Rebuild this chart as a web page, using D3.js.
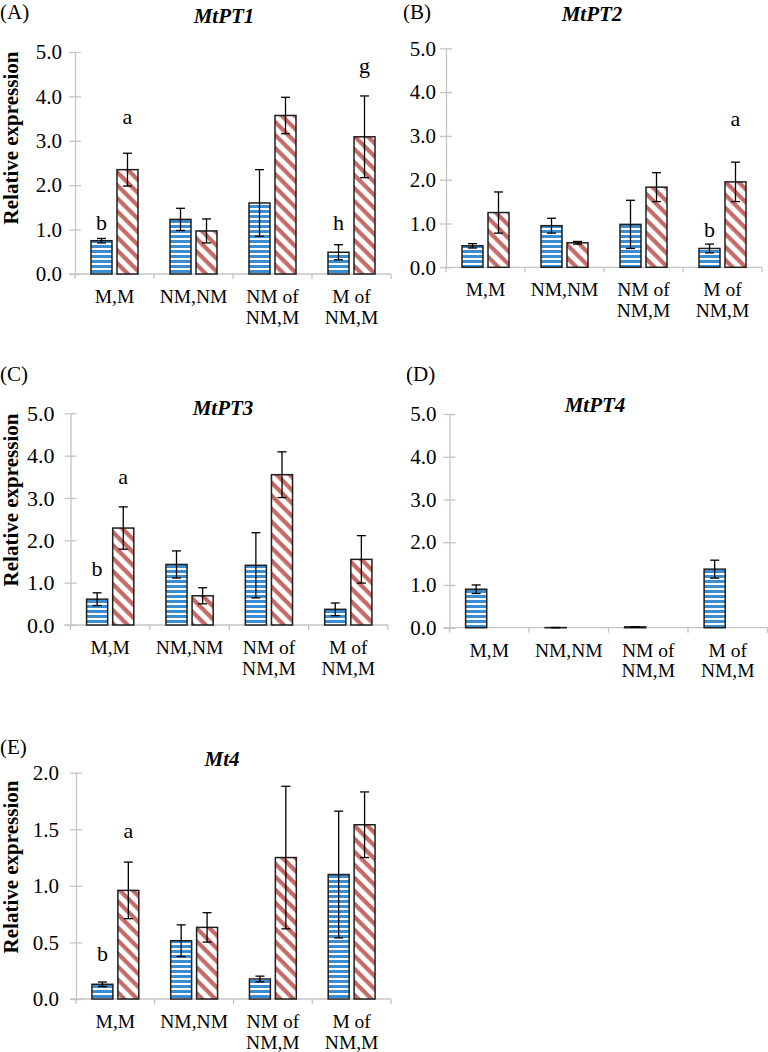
<!DOCTYPE html>
<html><head><meta charset="utf-8">
<script src="https://cdn.jsdelivr.net/npm/d3@7"></script>
<style>body{margin:0;background:#fff} svg{display:block}</style>
</head><body>
<svg id="chart" width="768" height="1052"></svg>
<script>
// ---------- DATA ----------
const categories = ["M,M", "NM,NM", "NM of NM,M", "M of NM,M"];
const categoryLines = [["M,M"], ["NM,NM"], ["NM of", "NM,M"], ["M of", "NM,M"]];
const seriesNames = ["Series 1", "Series 2"];
const panelLabels = ["(A)", "(B)", "(C)", "(D)", "(E)"];
const geneTitles = ["MtPT1", "MtPT2", "MtPT3", "MtPT4", "Mt4"];
const yLabel = "Relative expression";
const yTicksPT = [0, 1, 2, 3, 4, 5];
const yTicksMt4 = [0, 0.5, 1, 1.5, 2];

const mtpt1_s1 = [0.75, 1.23, 1.60, 0.49];
const mtpt1_s1_err = [0.05, 0.25, 0.75, 0.17];
const mtpt1_s2 = [2.35, 0.97, 3.57, 3.09];
const mtpt1_s2_err = [0.37, 0.27, 0.41, 0.92];

const mtpt2_s1 = [0.49, 0.95, 0.98, 0.43];
const mtpt2_s1_err = [0.05, 0.17, 0.55, 0.10];
const mtpt2_s2 = [1.25, 0.56, 1.83, 1.95];
const mtpt2_s2_err = [0.47, 0.03, 0.33, 0.45];

const mtpt3_s1 = [0.61, 1.43, 1.41, 0.37];
const mtpt3_s1_err = [0.15, 0.32, 0.77, 0.15];
const mtpt3_s2 = [2.29, 0.69, 3.55, 1.55];
const mtpt3_s2_err = [0.50, 0.19, 0.54, 0.56];

const mtpt4_s1 = [0.90, 0.003, 0.02, 1.37];
const mtpt4_s1_err = [0.10, 0.002, 0.005, 0.21];
const mtpt4_s2 = [0, 0, 0, 0];
const mtpt4_s2_err = [0, 0, 0, 0];

const mt4_s1 = [0.13, 0.515, 0.177, 1.10];
const mt4_s1_err = [0.02, 0.14, 0.025, 0.56];
const mt4_s2 = [0.96, 0.633, 1.25, 1.54];
const mt4_s2_err = [0.25, 0.13, 0.63, 0.29];

// significance letters: [category index, series index, letter, baseline value]
const mtpt1_letters = [[0, 0, "b", 0.99], [0, 1, "a", 3.38], [3, 0, "h", 0.99], [3, 1, "g", 4.53]];
const mtpt2_letters = [[3, 0, "b", 0.69], [3, 1, "a", 3.23]];
const mtpt3_letters = [[0, 0, "b", 1.16], [0, 1, "a", 3.33]];
const mtpt4_letters = [];
const mt4_letters = [[0, 0, "b", 0.336], [0, 1, "a", 1.425]];

// ---------- LAYOUT ----------
const panels = [
  {label: panelLabels[0], title: geneTitles[0], s: [mtpt1_s1, mtpt1_s2], e: [mtpt1_s1_err, mtpt1_s2_err], letters: mtpt1_letters,
   ticks: yTicksPT, x0: 75, x1: 391, y0: 274, y1: 52, labelPos: [0, 19], titlePos: [224, 23], ylab: [18, 138], tickGap: 13, tickFont: 21},
  {label: panelLabels[1], title: geneTitles[1], s: [mtpt2_s1, mtpt2_s2], e: [mtpt2_s1_err, mtpt2_s2_err], letters: mtpt2_letters,
   ticks: yTicksPT, x0: 446, x1: 762, y0: 267.3, y1: 48.3, labelPos: [403, 19], titlePos: [592, 21], ylab: null, tickGap: 10, tickFont: 21},
  {label: panelLabels[2], title: geneTitles[2], s: [mtpt3_s1, mtpt3_s2], e: [mtpt3_s1_err, mtpt3_s2_err], letters: mtpt3_letters,
   ticks: yTicksPT, x0: 70.5, x1: 388, y0: 625, y1: 413.3, labelPos: [0, 381], titlePos: [223, 415], ylab: [18, 500], tickGap: 16, tickFont: 22},
  {label: panelLabels[3], title: geneTitles[3], s: [mtpt4_s1, mtpt4_s2], e: [mtpt4_s1_err, mtpt4_s2_err], letters: mtpt4_letters,
   ticks: yTicksPT, x0: 449.5, x1: 767.5, y0: 627.7, y1: 414, labelPos: [406, 381], titlePos: [595, 412], ylab: null, tickGap: 13, tickFont: 21},
  {label: panelLabels[4], title: geneTitles[4], s: [mt4_s1, mt4_s2], e: [mt4_s1_err, mt4_s2_err], letters: mt4_letters,
   ticks: yTicksMt4, x0: 76, x1: 391, y0: 999, y1: 772.7, labelPos: [0, 754], titlePos: [222, 766], ylab: [18, 867], tickGap: 17, tickFont: 21}
];

const FONT = "Liberation Serif";
const svg = d3.select("#chart");
const AXIS = "#c4c4c4";
const BLUE = "#3a8dd0";
const RED = "#c66a66";

// patterns
const defs = svg.append("defs");
const ph = defs.append("pattern").attr("id", "hstripe").attr("patternUnits", "userSpaceOnUse")
  .attr("width", 6).attr("height", 5);
ph.append("rect").attr("width", 6).attr("height", 5).attr("fill", "#fff");
ph.append("rect").attr("width", 6).attr("height", 3).attr("fill", BLUE);
const pd = defs.append("pattern").attr("id", "dstripe").attr("patternUnits", "userSpaceOnUse")
  .attr("width", 9).attr("height", 9.2).attr("patternTransform", "rotate(45)");
pd.append("rect").attr("width", 9).attr("height", 9.2).attr("fill", "#fff");
pd.append("rect").attr("width", 9).attr("height", 4.2).attr("fill", RED);
const fills = ["url(#hstripe)", "url(#dstripe)"];

panels.forEach(p => {
  const g = svg.append("g").attr("font-family", FONT);
  const yMax = d3.max(p.ticks);
  const y = d3.scaleLinear().domain([0, yMax]).range([p.y0, p.y1]);
  const x = d3.scaleBand().domain(categories).range([p.x0, p.x1]);
  const bw = x.bandwidth();
  const xs = d3.scaleBand().domain(seriesNames).range([bw * 0.2025, bw * 0.7975]).paddingInner(5 / 26);

  // y axis
  const yAxis = d3.axisLeft(y).tickValues(p.ticks).tickSize(0).tickPadding(p.tickGap)
    .tickFormat(d3.format(".1f"));
  const ya = g.append("g").attr("transform", `translate(${p.x0},0)`).call(yAxis);
  ya.attr("font-family", FONT).attr("font-size", p.tickFont);
  ya.select(".domain").attr("stroke", AXIS).attr("stroke-width", 1.3);
  ya.selectAll(".tick text").attr("font-family", FONT).attr("font-size", p.tickFont).attr("fill", "#000");
  ya.selectAll(".tick").append("line").attr("x1", -6).attr("x2", 6).attr("stroke", AXIS).attr("stroke-width", 1.3);

  // x axis
  const xa = g.append("g").attr("transform", `translate(0,${p.y0})`);
  xa.append("line").attr("x1", p.x0 - 6).attr("x2", p.x1).attr("stroke", AXIS).attr("stroke-width", 1.3);
  const bounds = categories.map(c => x(c)).concat([p.x1]);
  xa.selectAll("line.bt").data(bounds).join("line").attr("class", "bt")
    .attr("x1", d => d).attr("x2", d => d).attr("y1", 0).attr("y2", 5)
    .attr("stroke", AXIS).attr("stroke-width", 1.3);
  categories.forEach((c, i) => {
    const t = xa.append("text").attr("font-family", FONT).attr("font-size", 19.5)
      .attr("text-anchor", "middle").attr("fill", "#000");
    categoryLines[i].forEach((ln, k) => {
      t.append("tspan").attr("x", x(c) + bw / 2).attr("y", 29 + k * 20.5).text(ln);
    });
  });

  // bars
  seriesNames.forEach((sn, si) => {
    const data = categories.map((c, i) => ({c, v: p.s[si][i], e: p.e[si][i]}));
    g.selectAll(null).data(data).join("rect")
      .attr("x", d => x(d.c) + xs(sn))
      .attr("y", d => y(d.v))
      .attr("width", xs.bandwidth())
      .attr("height", d => y(0) - y(d.v))
      .attr("fill", fills[si])
      .attr("stroke", d => d.v > 0 ? "#1e1e1e" : "none")
      .attr("stroke-width", 1.5);
    const eb = g.selectAll(null).data(data.filter(d => d.e > 0)).join("g")
      .attr("transform", d => `translate(${x(d.c) + xs(sn) + xs.bandwidth() / 2},0)`);
    eb.append("line").attr("y1", d => y(d.v - d.e)).attr("y2", d => y(d.v + d.e))
      .attr("stroke", "#000").attr("stroke-width", 1.3);
    eb.append("line").attr("x1", -4.5).attr("x2", 4.5).attr("y1", d => y(d.v + d.e)).attr("y2", d => y(d.v + d.e))
      .attr("stroke", "#000").attr("stroke-width", 1.3);
    eb.append("line").attr("x1", -4.5).attr("x2", 4.5).attr("y1", d => y(d.v - d.e)).attr("y2", d => y(d.v - d.e))
      .attr("stroke", "#000").attr("stroke-width", 1.3);
  });

  // letters
  g.selectAll(null).data(p.letters).join("text")
    .attr("x", d => x(categories[d[0]]) + xs(seriesNames[d[1]]) + xs.bandwidth() / 2)
    .attr("y", d => y(d[3]))
    .attr("text-anchor", "middle").attr("font-family", FONT).attr("font-size", 22)
    .text(d => d[2]);

  // panel label and title
  g.append("text").attr("x", p.labelPos[0]).attr("y", p.labelPos[1])
    .attr("font-family", FONT).attr("font-size", 21).text(p.label);
  g.append("text").attr("x", p.titlePos[0]).attr("y", p.titlePos[1]).attr("text-anchor", "middle")
    .attr("font-family", FONT).attr("font-size", 21).attr("font-weight", "bold").attr("font-style", "italic")
    .text(p.title);
  if (p.ylab) {
    g.append("text").attr("transform", `translate(${p.ylab[0]},${p.ylab[1]}) rotate(-90)`)
      .attr("text-anchor", "middle").attr("font-family", FONT).attr("font-size", 21).attr("font-weight", "bold")
      .text(yLabel);
  }
});
</script>
</body></html>
